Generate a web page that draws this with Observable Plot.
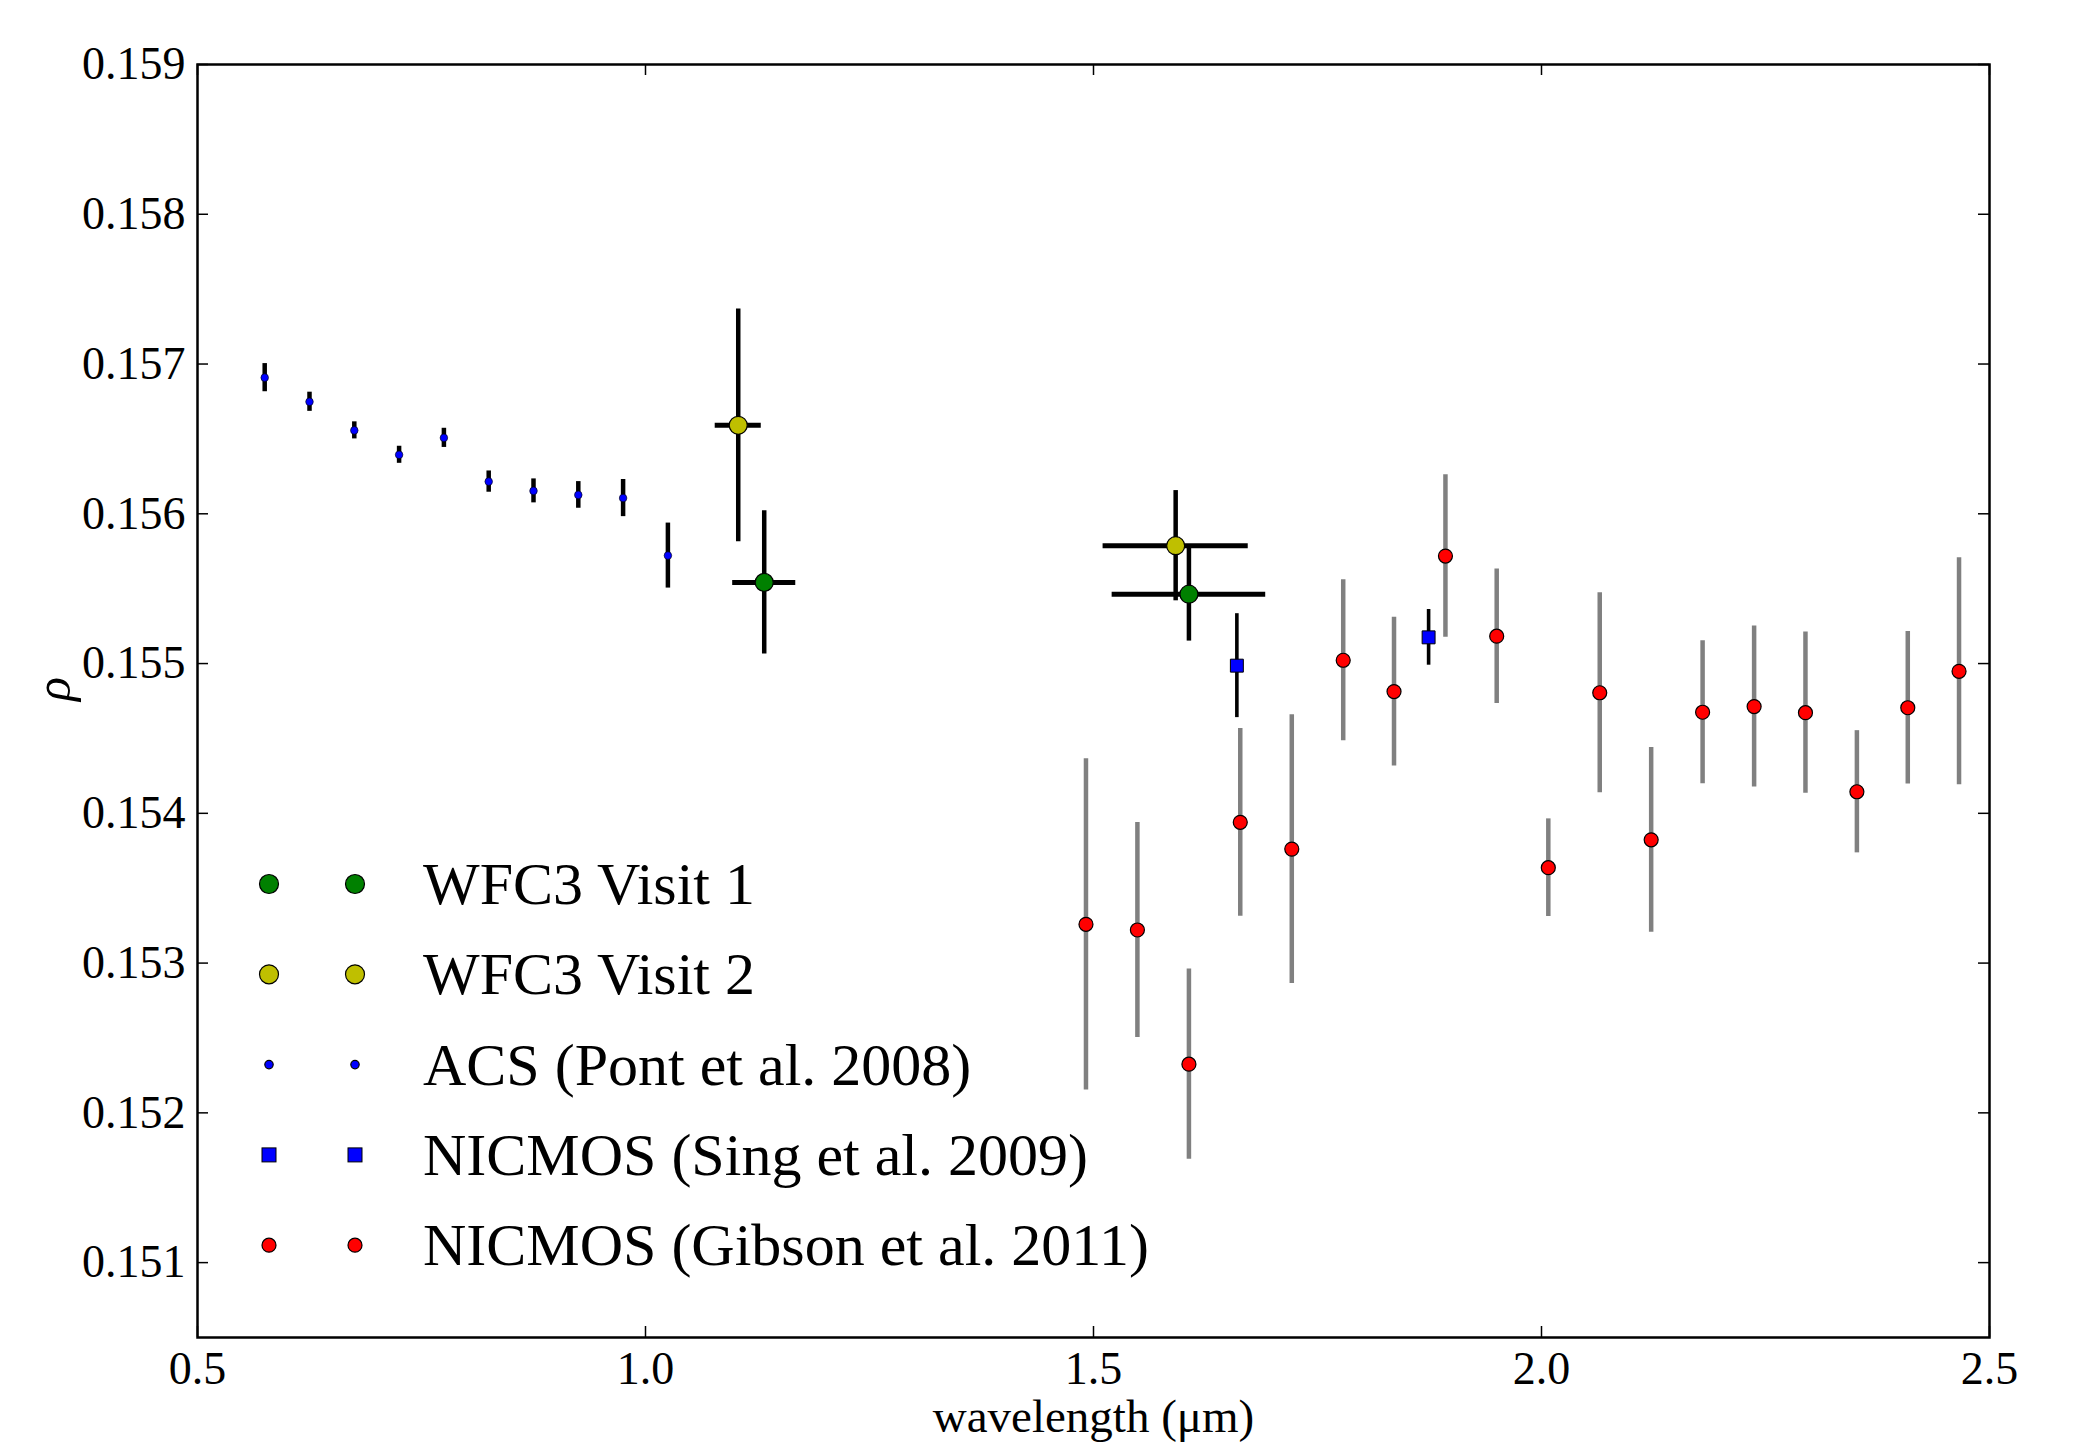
<!DOCTYPE html>
<html>
<head>
<meta charset="utf-8">
<script src="https://cdn.jsdelivr.net/npm/d3@7"></script>
<script src="https://cdn.jsdelivr.net/npm/@observablehq/plot@0.6"></script>
<style>
  html, body { margin: 0; padding: 0; background: #fff; }
  #chart { position: relative; width: 2090px; height: 1445px; }
</style>
</head>
<body>
<div id="chart"></div>
<script>
// ---------- data ----------
const xTicks = [0.5, 1.0, 1.5, 2.0, 2.5];
const yTicks = [0.151, 0.152, 0.153, 0.154, 0.155, 0.156, 0.157, 0.158, 0.159];

// WFC3 Visit 1
const v1Wave = [1.1325, 1.6065];
const v1Rho  = [0.155542, 0.155463];
const v1Err  = [0.000479, 0.000313];
const v1XErr = [0.0352, 0.0857];

// WFC3 Visit 2
const v2Wave = [1.1035, 1.5917];
const v2Rho  = [0.156591, 0.155787];
const v2Err  = [0.000777, 0.000368];
const v2XErr = [0.0257, 0.0810];

// ACS (Pont et al. 2008)
const acsWave = [0.575, 0.625, 0.675, 0.725, 0.775, 0.825, 0.875, 0.925, 0.975, 1.025];
const acsRho  = [0.156909, 0.156748, 0.156557, 0.156394, 0.156507, 0.156215, 0.156153, 0.156126, 0.156105, 0.155721];
const acsErr  = [0.000094, 0.000064, 0.000057, 0.000057, 0.000064, 0.000071, 0.000080, 0.000089, 0.000124, 0.000217];

// NICMOS (Sing et al. 2009)
const singWave = [1.660, 1.874];
const singRho  = [0.154986, 0.155175];
const singErr  = [0.000347, 0.000186];

// NICMOS (Gibson et al. 2011)
const gibWave = [1.4916, 1.5490, 1.6065, 1.6638, 1.7213, 1.7787, 1.8354, 1.8928, 1.9500,
                 2.0076, 2.0650, 2.1224, 2.1798, 2.2373, 2.2946, 2.3520, 2.4088, 2.4660];
const gibRho  = [0.153259, 0.153221, 0.152325, 0.153940, 0.153761, 0.155022, 0.154813, 0.155718, 0.155183,
                 0.153637, 0.154805, 0.153823, 0.154675, 0.154713, 0.154672, 0.154144, 0.154705, 0.154948];
const gibErr  = [0.001106, 0.000718, 0.000635, 0.000627, 0.000897, 0.000537, 0.000497, 0.000542, 0.000449,
                 0.000326, 0.000668, 0.000617, 0.000478, 0.000538, 0.000538, 0.000408, 0.000509, 0.000758];

const legendLabels = ["WFC3 Visit 1", "WFC3 Visit 2", "ACS (Pont et al. 2008)",
                      "NICMOS (Sing et al. 2009)", "NICMOS (Gibson et al. 2011)"];

// ---------- tables ----------
const rows = (w, r, e, xe) => w.map((x, i) => ({w: x, v: r[i], e: e[i], xe: xe ? xe[i] : 0}));
const v1 = rows(v1Wave, v1Rho, v1Err, v1XErr);
const v2 = rows(v2Wave, v2Rho, v2Err, v2XErr);
const acs = rows(acsWave, acsRho, acsErr);
const sing = rows(singWave, singRho, singErr);
const gib = rows(gibWave, gibRho, gibErr);

// ---------- layout ----------
const W = 2090, H = 1445;
const mT = 64, mR = 101, mB = 108, mL = 197;
const plotH = H - mT - mB, plotW = W - mL - mR;
const tickLen = 11;
const FONT = "'Liberation Serif', 'DejaVu Serif', serif";

const GREEN = "#008000", YELLOW = "#bfbf00", BLUE = "#0000ff", RED = "#ff0000", GRAY = "#808080";

const errY = (data, stroke, sw) => Plot.ruleX(data, {x: "w", y1: d => d.v - d.e, y2: d => d.v + d.e, stroke, strokeWidth: sw});
const errX = (data, stroke, sw) => Plot.ruleY(data, {y: "v", x1: d => d.w - d.xe, x2: d => d.w + d.xe, stroke, strokeWidth: sw});

const chart = Plot.plot({
  width: W, height: H,
  marginTop: mT, marginRight: mR, marginBottom: mB, marginLeft: mL,
  x: {domain: [0.5, 2.5]},
  y: {domain: [0.1505, 0.159]},
  style: {fontFamily: FONT, background: "white", color: "black", overflow: "visible"},
  marks: [
    // Gibson
    errY(gib, GRAY, 4.5),
    Plot.dot(gib, {x: "w", y: "v", r: 7, fill: RED, stroke: "black", strokeWidth: 1.2}),
    // Sing
    errY(sing, "black", 3.6),
    Plot.dot(sing, {x: "w", y: "v", r: 7.3, symbol: "square", fill: BLUE, stroke: "black", strokeWidth: 1}),
    // ACS
    errY(acs, "black", 4.5),
    Plot.dot(acs, {x: "w", y: "v", r: 3.8, fill: BLUE, stroke: "black", strokeWidth: 0.6}),
    // WFC3 Visit 1
    errY(v1, "black", 4.5),
    errX(v1, "black", 5),
    Plot.dot(v1, {x: "w", y: "v", r: 9, fill: GREEN, stroke: "black", strokeWidth: 1.2}),
    // WFC3 Visit 2
    errY(v2, "black", 4.5),
    errX(v2, "black", 5),
    Plot.dot(v2, {x: "w", y: "v", r: 9, fill: YELLOW, stroke: "black", strokeWidth: 1.2}),

    // inward ticks on all four sides
    Plot.tickX(xTicks, {x: d => d, insetTop: plotH - tickLen, stroke: "black", strokeWidth: 1.5}),
    Plot.tickX(xTicks, {x: d => d, insetBottom: plotH - tickLen, stroke: "black", strokeWidth: 1.5}),
    Plot.tickY(yTicks, {y: d => d, insetRight: plotW - tickLen, stroke: "black", strokeWidth: 1.5}),
    Plot.tickY(yTicks, {y: d => d, insetLeft: plotW - tickLen, stroke: "black", strokeWidth: 1.5}),

    Plot.frame({stroke: "black", strokeWidth: 2.5}),

    Plot.axisX(xTicks, {tickSize: 0, tickPadding: 14, tickFormat: d3.format(".1f"), fontSize: 46, label: null}),
    Plot.axisY(yTicks, {tickSize: 0, tickPadding: 12, tickFormat: d3.format(".3f"), fontSize: 46, label: null}),

    Plot.text(["wavelength (μm)"], {text: d => d, frameAnchor: "bottom", dy: 79, fontSize: 47, lineAnchor: "middle"}),
    Plot.text(["ρ"], {text: d => d, frameAnchor: "left", dx: -144, rotate: -90, fontSize: 50, fontStyle: "italic", lineAnchor: "middle"})
  ]
});

document.getElementById("chart").appendChild(chart);

// ---------- legend (matplotlib style, two markers per entry) ----------
const legendStyles = [
  {fill: GREEN, r: 9.5, sym: "circle"},
  {fill: YELLOW, r: 9.5, sym: "circle"},
  {fill: BLUE, r: 4.2, sym: "circle"},
  {fill: BLUE, r: 7, sym: "square"},
  {fill: RED, r: 7, sym: "circle"}
];
const legendTop = 884, legendGap = 90.3;
const svg = d3.select(chart.tagName.toLowerCase() === "svg" ? chart : chart.querySelector("svg"));
const lg = svg.append("g").attr("class", "legend").attr("text-anchor", "start");
legendLabels.forEach((label, i) => {
  const y = legendTop + i * legendGap;
  const st = legendStyles[i];
  [269, 355].forEach(cx => {
    if (st.sym === "square") {
      lg.append("rect").attr("x", cx - st.r).attr("y", y - st.r).attr("width", 2 * st.r).attr("height", 2 * st.r)
        .attr("fill", st.fill).attr("stroke", "black").attr("stroke-width", 1);
    } else {
      lg.append("circle").attr("cx", cx).attr("cy", y).attr("r", st.r)
        .attr("fill", st.fill).attr("stroke", "black").attr("stroke-width", 1.2);
    }
  });
  lg.append("text").attr("x", 423).attr("y", y + 20)
    .attr("text-anchor", "start")
    .attr("font-size", 60).attr("fill", "black")
    .attr("font-family", FONT)
    .text(label);
});
</script>
</body>
</html>
